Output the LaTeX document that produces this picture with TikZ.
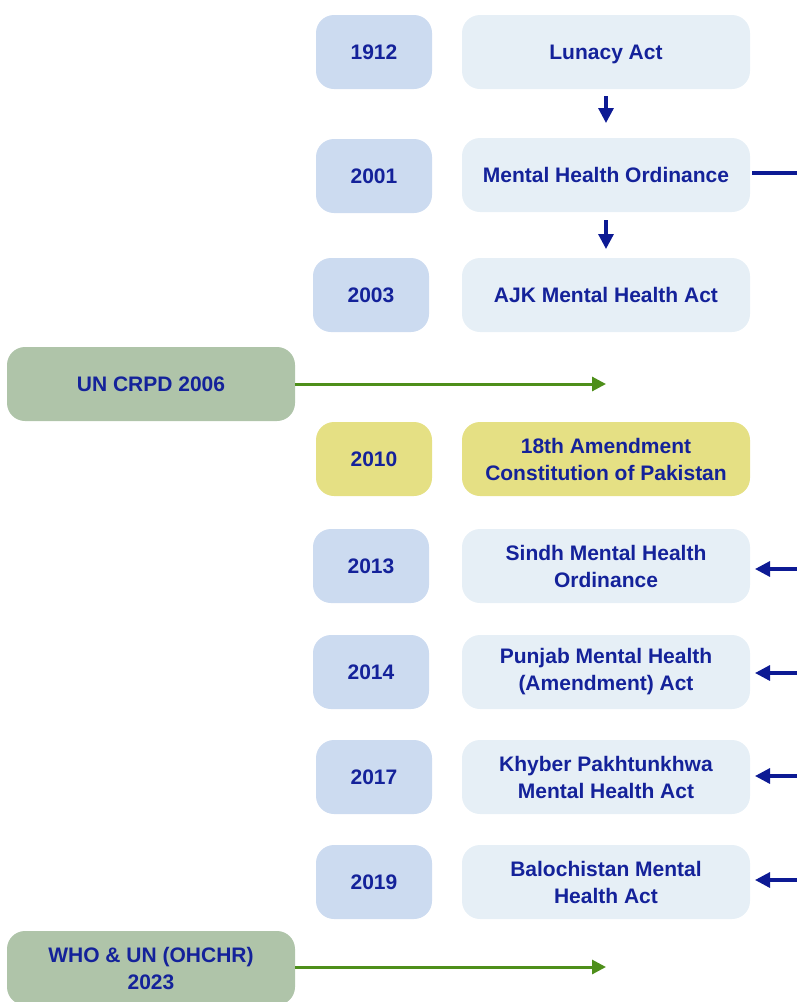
\documentclass[tikz,border=0pt]{standalone}
\usepackage{fontspec}
\setmainfont{Liberation Sans}
\usetikzlibrary{arrows.meta}
\definecolor{yearblue}{HTML}{CCDBF0}
\definecolor{eventblue}{HTML}{E6EFF6}
\definecolor{yel}{HTML}{E5E084}
\definecolor{grn}{HTML}{AFC4A9}
\definecolor{txt}{HTML}{14229A}
\definecolor{navy}{HTML}{0D1A94}
\definecolor{garrow}{HTML}{4E8F1A}
\tikzset{
  box/.style={rounded corners=18pt, inner sep=0pt, outer sep=0pt, align=center,
    text=txt, font=\fontsize{21}{27}\selectfont\bfseries, minimum height=74pt},
  onebox/.style={text depth=0pt},
  yearbox/.style={box, onebox, fill=yearblue, minimum width=116pt},
  eventbox/.style={box, fill=eventblue, minimum width=288pt},
  greenbox/.style={box, fill=grn, minimum width=288pt},
  navyarrow/.style={draw=navy, line width=3.2pt, -{Triangle[length=15pt,width=15pt]}},
  greenarrow/.style={draw=garrow, line width=3pt, -{Triangle[length=14pt,width=14pt]}},
}
\begin{document}
\begin{tikzpicture}[x=1pt,y=-1pt]
\useasboundingbox (0,0) rectangle (797,1002);
% year boxes
\node[yearbox] (y1912) at (374,52) {1912};
\node[yearbox] (y2001) at (374,176) {2001};
\node[yearbox] (y2003) at (371,295) {2003};
\node[yearbox, fill=yel] (y2010) at (374,459) {2010};
\node[yearbox] (y2013) at (371,566) {2013};
\node[yearbox] (y2014) at (371,672) {2014};
\node[yearbox] (y2017) at (374,777) {2017};
\node[yearbox] (y2019) at (374,882) {2019};
% event boxes
\node[eventbox, onebox] (lun) at (606,52) {Lunacy Act};
\node[eventbox, onebox] (mho) at (606,175) {Mental Health Ordinance};
\node[eventbox, onebox] (ajk) at (606,295) {AJK Mental Health Act};
\node[eventbox, fill=yel] (amd) at (606,459) {18th Amendment\\Constitution of Pakistan};
\node[eventbox] (sin) at (606,566) {Sindh Mental Health\\Ordinance};
\node[eventbox] (pun) at (606,672) {Punjab Mental Health\\(Amendment) Act};
\node[eventbox] (kp) at (606,777) {Khyber Pakhtunkhwa\\Mental Health Act};
\node[eventbox] (bal) at (606,882) {Balochistan Mental\\Health Act};
% green boxes
\node[greenbox, onebox] (crpd) at (151,384) {UN CRPD 2006};
\node[greenbox] (who) at (151,968) {WHO \& UN (OHCHR)\\2023};
% coordinates
\coordinate (crpdend) at (606,384);
\coordinate (whoend) at (606,967);
\coordinate (mhor) at (797,173);
\coordinate (sinr) at (797,569);
\coordinate (punr) at (797,673);
\coordinate (kpr) at (797,776);
\coordinate (balr) at (797,880);
% connectors
\draw[navyarrow, shorten <=7pt, shorten >=15pt] (lun.south) -- (mho.north);
\draw[navyarrow, shorten <=8pt, shorten >=9pt] (mho.south) -- (ajk.north);
\draw[draw=navy, line width=3.2pt] ([xshift=2pt]mho.east |- mhor) -- (mhor);
\draw[navyarrow, shorten >=5pt] (sinr) -- (sin.east |- sinr);
\draw[navyarrow, shorten >=5pt] (punr) -- (pun.east |- punr);
\draw[navyarrow, shorten >=5pt] (kpr) -- (kp.east |- kpr);
\draw[navyarrow, shorten >=5pt] (balr) -- (bal.east |- balr);
\draw[greenarrow] (crpd.east) -- (crpdend);
\draw[greenarrow] (who.east |- whoend) -- (whoend);
\end{tikzpicture}
\end{document}
